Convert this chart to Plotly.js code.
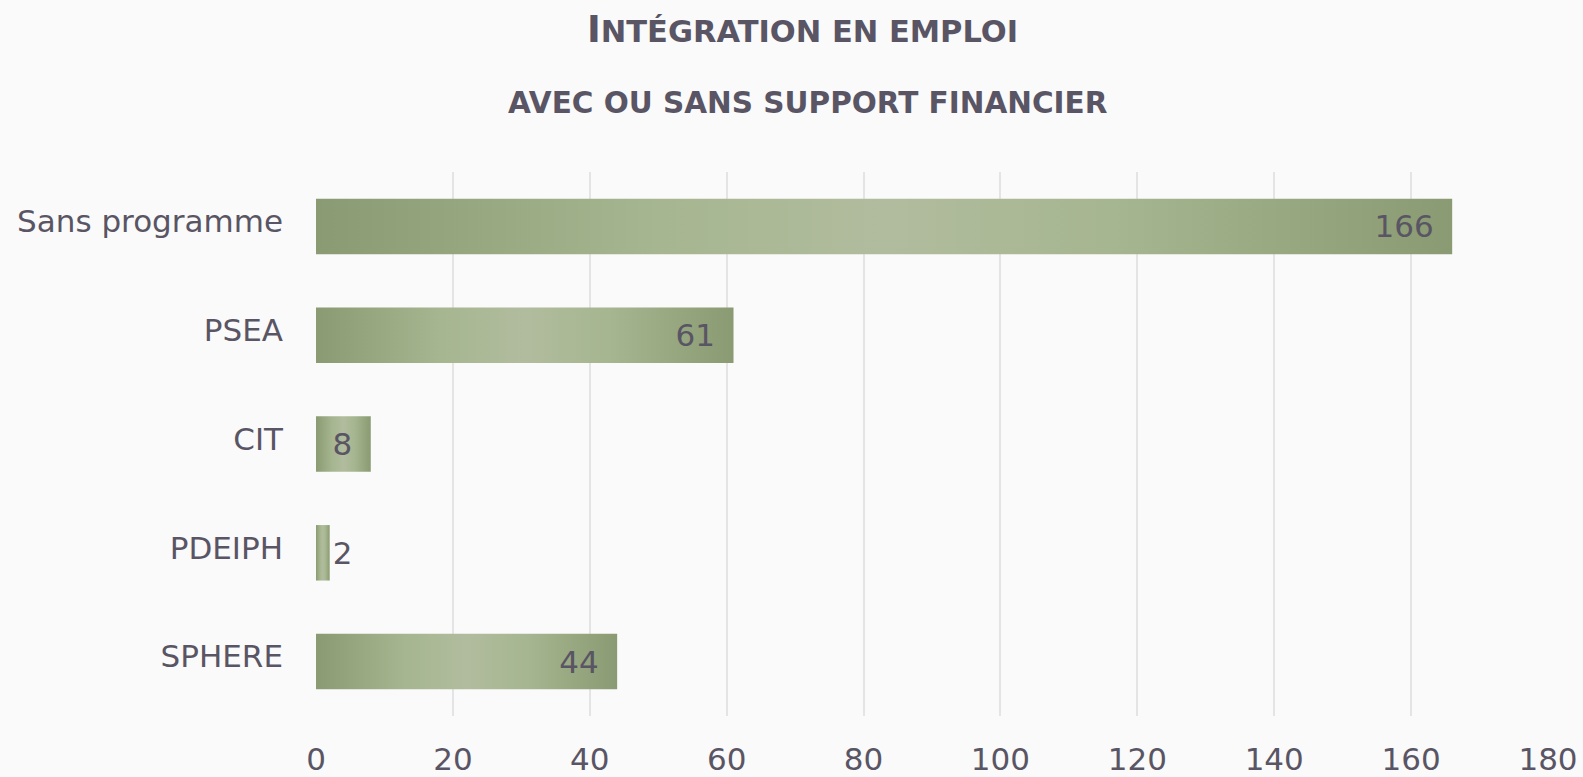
<!DOCTYPE html>
<html>
<head>
<meta charset="utf-8">
<script src="https://cdn.plot.ly/plotly-3.0.1.min.js"></script>
<style>
  html, body { margin: 0; padding: 0; background: #fafafa; }
  #chart { width: 1583px; height: 777px; }
</style>
</head>
<body>
<div id="chart"></div>
<script>
const categories = ["Sans programme", "PSEA", "CIT", "PDEIPH", "SPHERE"];
const counts = [166, 61, 8, 2, 44];
const xTickValues = [0, 20, 40, 60, 80, 100, 120, 140, 160, 180];

const textColor = "#595564";
const font = "DejaVu Sans, Verdana, sans-serif";

const trace = {
  type: "bar",
  orientation: "h",
  x: counts,
  y: categories,
  marker: { color: "#a3b38c", line: { width: 0 } },
  texttemplate: "%{x}\u2002",
  textposition: "auto",
  insidetextanchor: "end",
  constraintext: "none",
  cliponaxis: false,
  textfont: { family: font, size: 31, color: textColor },
  insidetextfont: { family: font, size: 31, color: textColor },
  outsidetextfont: { family: font, size: 31, color: textColor },
  hoverinfo: "skip"
};

const layout = {
  width: 1583,
  height: 777,
  margin: { l: 316, r: 35, t: 172, b: 61 },
  paper_bgcolor: "#fafafa",
  plot_bgcolor: "#fafafa",
  font: { family: font, size: 31, color: textColor },
  showlegend: false,
  bargap: 0.49,
  xaxis: {
    range: [0, 180],
    tickvals: xTickValues,
    ticktext: xTickValues.map(String),
    showgrid: true,
    gridcolor: "#e4e4e4",
    gridwidth: 2,
    zeroline: false,
    showline: false,
    ticks: "",
    ticklabelstandoff: 22,
    tickfont: { family: font, size: 31, color: textColor },
    fixedrange: true
  },
  yaxis: {
    autorange: "reversed",
    showgrid: false,
    zeroline: false,
    showline: false,
    ticks: "",
    ticklabelstandoff: 32,
    ticklabelshift: 5,
    tickfont: { family: font, size: 31, color: textColor },
    fixedrange: true
  },
  annotations: [
    {
      xref: "paper", yref: "paper",
      x: 0.3945, y: 1.262,
      xanchor: "center", yanchor: "middle",
      showarrow: false,
      text: "<b>I<span style=\"font-size:30.5px\">NTÉGRATION EN EMPLOI</span></b>",
      font: { family: font, size: 37, color: textColor }
    },
    {
      xref: "paper", yref: "paper",
      x: 0.3994, y: 1.127,
      xanchor: "center", yanchor: "middle",
      showarrow: false,
      text: "<b>AVEC OU SANS SUPPORT FINANCIER</b>",
      font: { family: font, size: 29.5, color: textColor }
    }
  ]
};

function applyGradient(gd) {
  const svg = gd.querySelector("svg.main-svg");
  if (!svg) return;
  const ns = "http://www.w3.org/2000/svg";
  let defs = svg.querySelector("defs");
  if (!defs) {
    defs = document.createElementNS(ns, "defs");
    svg.insertBefore(defs, svg.firstChild);
  }
  const grad = document.createElementNS(ns, "linearGradient");
  grad.setAttribute("id", "barGrad");
  grad.setAttribute("x1", "0");
  grad.setAttribute("x2", "1");
  grad.setAttribute("y1", "0");
  grad.setAttribute("y2", "0");
  [
    [0, "#8a9a72"],
    [0.3, "#a6b690"],
    [0.5, "#b1bc9e"],
    [0.7, "#a6b690"],
    [1, "#8a9a72"]
  ].forEach(([off, col]) => {
    const stop = document.createElementNS(ns, "stop");
    stop.setAttribute("offset", off);
    stop.setAttribute("stop-color", col);
    grad.appendChild(stop);
  });
  defs.appendChild(grad);
  gd.querySelectorAll(".barlayer .point path").forEach((p) => {
    p.style.fill = "url(#barGrad)";
  });
}

const gd = document.getElementById("chart");
Plotly.newPlot(gd, [trace], layout, { staticPlot: true, displayModeBar: false })
  .then(() => applyGradient(gd));
</script>
</body>
</html>
